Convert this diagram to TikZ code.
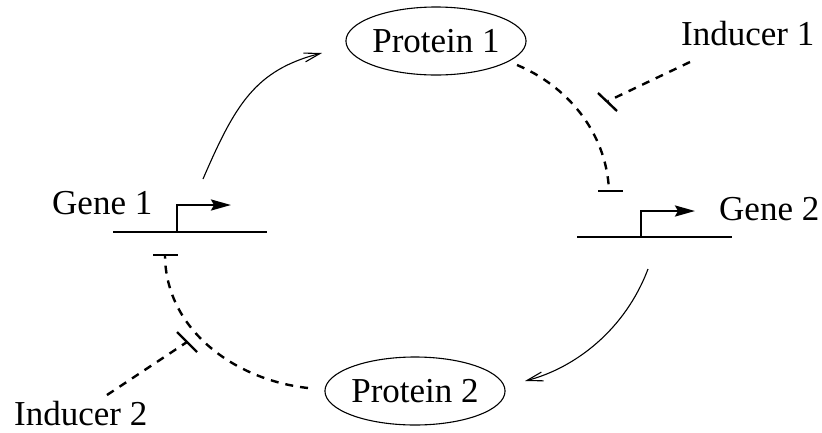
\documentclass[tikz,border=0pt]{standalone}
\usepackage{fontspec}
\setmainfont{Liberation Serif}
\usetikzlibrary{arrows.meta,shapes.geometric}
\begin{document}
\begin{tikzpicture}[x=1pt,y=-1pt,
  lbl/.style={font=\fontsize{35}{40}\selectfont, inner sep=0pt},
  prot/.style={ellipse, draw, line width=1.1pt, minimum width=174pt, minimum height=68pt, inner sep=0pt, font=\fontsize{35}{40}\selectfont},
  dna/.style={line width=2.6pt},
  prom/.style={line width=2.4pt, -{Stealth[length=20pt,width=11pt,inset=3pt]}},
  act/.style={line width=1.1pt, -{Straight Barb[length=16pt,width=9pt]}},
  inh/.style={line width=2.4pt, dash pattern=on 8pt off 7pt},
  ibar/.style={line width=2.4pt}]
\useasboundingbox (0,0) rectangle (822,432);

% proteins
\node[prot] (p1) at (436,41) {Protein 1};
\node[prot] (p2) at (415,391) {Protein 2};

% labels
\node[lbl, anchor=base west] (g1l) at (52,214) {Gene 1};
\node[lbl, anchor=base west] (g2l) at (719,220) {Gene 2};
\node[lbl, anchor=base west] (i1l) at (681,45) {Inducer 1};
\node[lbl, anchor=base west] (i2l) at (14,425) {Inducer 2};

% gene 1
\coordinate (g1a) at (113,232);
\coordinate (g1b) at (267,232);
\coordinate (g1p) at (177,232);
\coordinate (g1t) at (177,205);
\coordinate (g1h) at (231,205);
\draw[dna] (g1a) -- (g1b);
\draw[prom] (g1p) -- (g1t) -- (g1h);

% gene 2
\coordinate (g2a) at (577,237);
\coordinate (g2b) at (732,237);
\coordinate (g2p) at (641,237);
\coordinate (g2t) at (641,211);
\coordinate (g2h) at (695,211);
\draw[dna] (g2a) -- (g2b);
\draw[prom] (g2p) -- (g2t) -- (g2h);

% activation arrows
\coordinate (g1out) at (203,179);
\coordinate (p1in) at (322,53);
\draw[act] (g1out) .. controls (235,105) and (255,70) .. (p1in);
\coordinate (g2out) at (648,269);
\coordinate (p2in) at (525,381);
\draw[act] (g2out) .. controls (625,330) and (575,368) .. (p2in);

% repression: protein 1 -> gene 2
\coordinate (p1out) at (517,65);
\coordinate (g2in) at (609,190);
\draw[inh] (p1out) .. controls (565,85) and (606,130) .. (g2in);
\coordinate (g2barl) at (598,191);
\coordinate (g2barr) at (623,191);
\draw[ibar] (g2barl) -- (g2barr);

% repression: protein 2 -> gene 1
\coordinate (p2out) at (308,388);
\coordinate (g1in) at (165,256);
\draw[inh] (p2out) .. controls (235,380) and (166,330) .. (g1in);
\coordinate (g1barl) at (153,255);
\coordinate (g1barr) at (178,255);
\draw[ibar] (g1barl) -- (g1barr);

% inducer 1
\coordinate (i1a) at (690,62);
\coordinate (i1b) at (608,101);
\draw[inh] (i1a) -- (i1b);
\coordinate (i1barl) at (598,93);
\coordinate (i1barr) at (617,111);
\draw[ibar] (i1barl) -- (i1barr);

% inducer 2
\coordinate (i2a) at (107,395);
\coordinate (i2b) at (187,342);
\draw[inh] (i2a) -- (i2b);
\coordinate (i2barl) at (177,332);
\coordinate (i2barr) at (197,352);
\draw[ibar] (i2barl) -- (i2barr);
\end{tikzpicture}
\end{document}
